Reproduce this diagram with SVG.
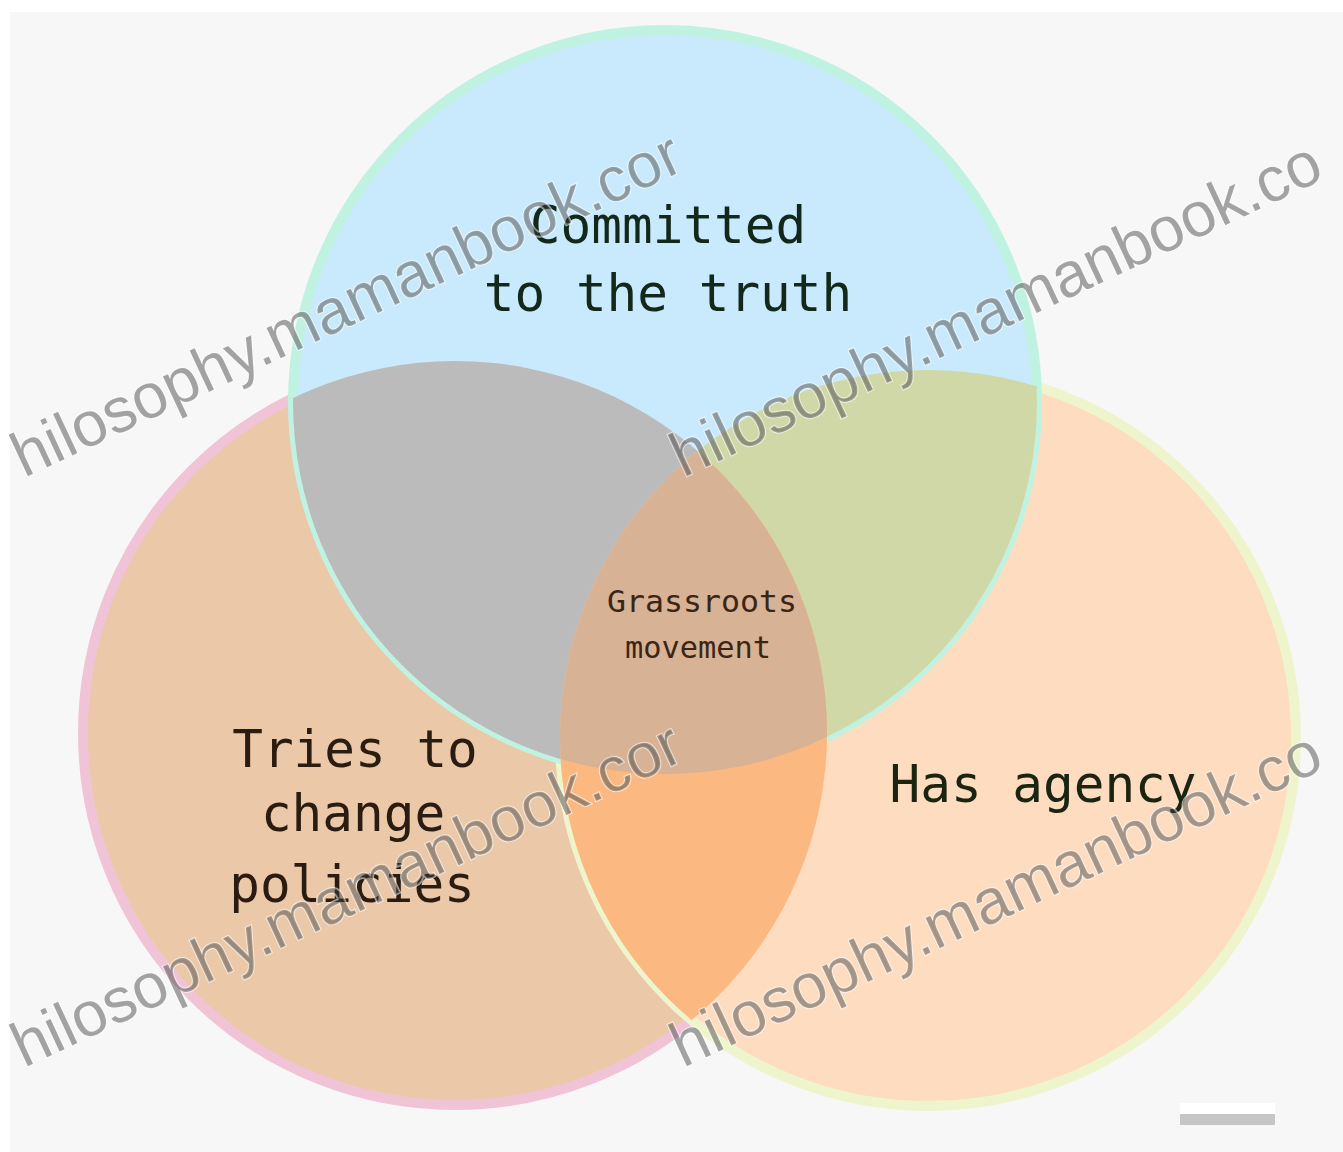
<svg xmlns="http://www.w3.org/2000/svg" width="1343" height="1152" viewBox="0 0 1343 1152">
<defs>
<clipPath id="cT"><circle cx="665" cy="402" r="372"/></clipPath>
<clipPath id="cL"><circle cx="455" cy="733" r="372"/></clipPath>
</defs>
<style>
.lbl{font-family:"DejaVu Sans Mono","Liberation Mono",monospace;font-size:51px;text-anchor:middle;fill:#1d1d1d}
.sm{font-size:30px;fill:#3a2616}
.wm{font-family:"Liberation Sans",Arial,sans-serif;font-size:63px;fill:#3a3a3a;fill-opacity:.45;stroke:#ffffff;stroke-opacity:.6;stroke-width:2;paint-order:stroke}
</style>
<rect width="1343" height="1152" fill="#ffffff"/>
<rect x="10" y="12" width="1333" height="1140" fill="#f7f7f7"/>

<g id="circle-left"><circle cx="455" cy="733" r="372" fill="#ebc8a8" stroke="#f0c4d6" stroke-width="10"/></g>
<g id="circle-right"><circle cx="928" cy="738" r="368" fill="#fddcc0" stroke="#eef5cc" stroke-width="10"/></g>
<g id="circle-top"><circle cx="665" cy="402" r="372" fill="#c8eafc" stroke="#c0f2e2" stroke-width="10"/></g>

<g id="overlaps">
<g clip-path="url(#cT)">
<circle cx="455" cy="733" r="372" fill="#bbbbbb"/>
<circle cx="928" cy="738" r="368" fill="#d1d8a8"/>
</g>
<g clip-path="url(#cL)"><circle cx="928" cy="738" r="368" fill="#fbb880"/></g>
<g clip-path="url(#cT)"><g clip-path="url(#cL)"><circle cx="928" cy="738" r="368" fill="#d8b294"/></g></g>
</g>

<g id="labels">
<text class="lbl" x="668" y="243" style="fill:#12281a">Committed</text>
<text class="lbl" x="668" y="311" style="fill:#12281a">to the truth</text>
<text class="lbl" x="355" y="767" style="fill:#2a1c10">Tries to</text>
<text class="lbl" x="353" y="831" style="fill:#2a1c10">change</text>
<text class="lbl" x="352" y="902" style="fill:#2a1c10">policies</text>
<text class="lbl" x="1043" y="802" style="fill:#1a2410">Has agency</text>
<text class="lbl sm" x="702" y="612" textLength="190" lengthAdjust="spacingAndGlyphs">Grassroots</text>
<text class="lbl sm" x="698" y="658" textLength="146" lengthAdjust="spacingAndGlyphs">movement</text>
</g>

<g id="watermark">
<text class="wm" transform="translate(24,478) rotate(-25)">hilosophy.mamanbook.cor</text>
<text class="wm" transform="translate(683,478) rotate(-25)">hilosophy.mamanbook.co</text>
<text class="wm" transform="translate(24,1068) rotate(-25)">hilosophy.mamanbook.cor</text>
<text class="wm" transform="translate(683,1068) rotate(-25)">hilosophy.mamanbook.co</text>
</g>

<g id="bar">
<rect x="1180" y="1103" width="95" height="12" fill="#ffffff"/>
<rect x="1180" y="1114" width="95" height="11" fill="#c6c6c6"/>
</g>
</svg>
